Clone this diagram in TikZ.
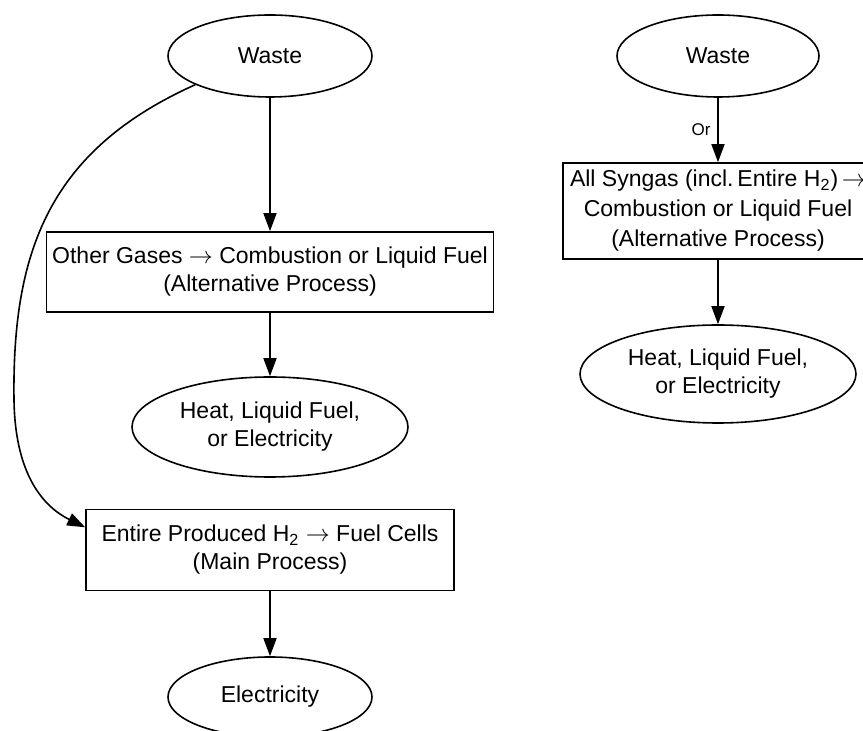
\documentclass[tikz,border=0pt]{standalone}
\usepackage{fontspec}
\setmainfont{Liberation Sans}
\usetikzlibrary{arrows.meta,shapes.geometric}
\frenchspacing

\begin{document}
\begin{tikzpicture}[x=0.5pt,y=-0.5pt,
	oval/.style={draw,ellipse,line width=0.8pt,inner sep=0pt,align=center,font=\fontsize{11.5}{14}\selectfont},
	procbox/.style={draw,rectangle,line width=0.8pt,inner sep=0pt,align=center,font=\fontsize{11.5}{14}\selectfont},
	flow/.style={-{Triangle[length=9pt,width=6.5pt]},line width=0.8pt}]
	\useasboundingbox (0,0) rectangle (863,731);
	% main route
	\node[oval,minimum width=102pt,minimum height=41pt] (waste) at (270,56) {Waste};
	\node[procbox,minimum width=223.5pt,minimum height=40pt] (gases) at (270,272) {Other Gases $\rightarrow$ Combustion or Liquid Fuel\\(Alternative Process)};
	\node[oval,minimum width=138pt,minimum height=50pt] (heat) at (270,427) {Heat, Liquid Fuel,\\or Electricity};
	\node[procbox,minimum width=184pt,minimum height=40.5pt] (cells) at (270,550) {Entire Produced H\textsubscript{2} $\rightarrow$ Fuel Cells\\(Main Process)};
	\node[oval,minimum width=102pt,minimum height=40pt] (power) at (270,697) {Electricity};
	\draw[flow] (waste) -- (gases);
	\draw[flow] (gases) -- (heat);
	\draw[flow] (waste.201) .. controls (50,150) and (12,250) .. (14,400) .. controls (15,470) and (40,505) .. (cells.173);
	\draw[flow] (cells) -- (power);
	% alternative route
	\node[oval,minimum width=101pt,minimum height=41pt] (wasteR) at (718,56) {Waste};
	\node[procbox,minimum width=155pt,minimum height=48pt,font=\fontsize{11.5}{15}\selectfont] (syngas) at (718,211) {All Syngas (incl.\,Entire H\textsubscript{2})\,$\rightarrow$\\Combustion or Liquid Fuel\\(Alternative Process)};
	\node[oval,minimum width=138pt,minimum height=49pt] (heatR) at (718,374) {Heat, Liquid Fuel,\\or Electricity};
	\draw[flow] (wasteR) -- node[left,font=\fontsize{8.5}{10}\selectfont]{Or} (syngas);
	\draw[flow] (syngas) -- (heatR);
\end{tikzpicture}
\end{document}
